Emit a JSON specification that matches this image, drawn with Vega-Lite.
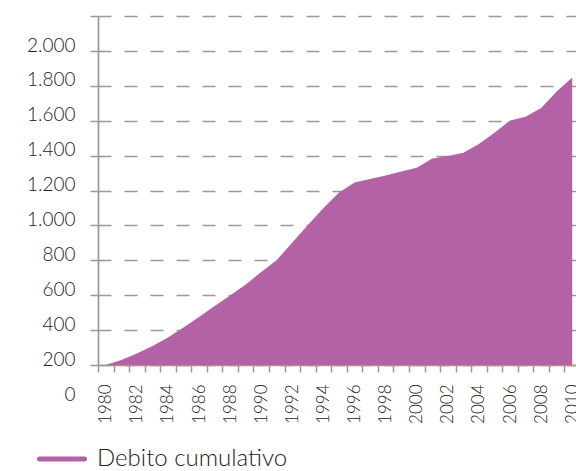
{
  "$schema": "https://vega.github.io/schema/vega-lite/v6.json",
  "width": 482,
  "height": 349,
  "autosize": {"type": "none"},
  "padding": {"left": 98, "top": 16, "right": 0, "bottom": 106},
  "background": "white",
  "data": {
    "values": [
      {"anno": 1980, "debito": 0, "serie": "Debito cumulativo"},
      {"anno": 1981, "debito": 29, "serie": "Debito cumulativo"},
      {"anno": 1982, "debito": 66, "serie": "Debito cumulativo"},
      {"anno": 1983, "debito": 109, "serie": "Debito cumulativo"},
      {"anno": 1984, "debito": 158, "serie": "Debito cumulativo"},
      {"anno": 1985, "debito": 215, "serie": "Debito cumulativo"},
      {"anno": 1986, "debito": 275, "serie": "Debito cumulativo"},
      {"anno": 1987, "debito": 338, "serie": "Debito cumulativo"},
      {"anno": 1988, "debito": 398, "serie": "Debito cumulativo"},
      {"anno": 1989, "debito": 461, "serie": "Debito cumulativo"},
      {"anno": 1990, "debito": 533, "serie": "Debito cumulativo"},
      {"anno": 1991, "debito": 602, "serie": "Debito cumulativo"},
      {"anno": 1992, "debito": 702, "serie": "Debito cumulativo"},
      {"anno": 1993, "debito": 802, "serie": "Debito cumulativo"},
      {"anno": 1994, "debito": 900, "serie": "Debito cumulativo"},
      {"anno": 1995, "debito": 989, "serie": "Debito cumulativo"},
      {"anno": 1996, "debito": 1046, "serie": "Debito cumulativo"},
      {"anno": 1997, "debito": 1066, "serie": "Debito cumulativo"},
      {"anno": 1998, "debito": 1086, "serie": "Debito cumulativo"},
      {"anno": 1999, "debito": 1109, "serie": "Debito cumulativo"},
      {"anno": 2000, "debito": 1131, "serie": "Debito cumulativo"},
      {"anno": 2001, "debito": 1183, "serie": "Debito cumulativo"},
      {"anno": 2002, "debito": 1198, "serie": "Debito cumulativo"},
      {"anno": 2003, "debito": 1217, "serie": "Debito cumulativo"},
      {"anno": 2004, "debito": 1266, "serie": "Debito cumulativo"},
      {"anno": 2005, "debito": 1331, "serie": "Debito cumulativo"},
      {"anno": 2006, "debito": 1401, "serie": "Debito cumulativo"},
      {"anno": 2007, "debito": 1422, "serie": "Debito cumulativo"},
      {"anno": 2008, "debito": 1473, "serie": "Debito cumulativo"},
      {"anno": 2009, "debito": 1567, "serie": "Debito cumulativo"},
      {"anno": 2010, "debito": 1648, "serie": "Debito cumulativo"}
    ]
  },
  "mark": {"type": "area", "opacity": 1},
  "encoding": {
    "x": {
      "field": "anno",
      "type": "ordinal",
      "bandPosition": 0.5,
      "scale": {"type": "band", "paddingInner": 0, "paddingOuter": 0},
      "axis": {
        "title": null,
        "labelAngle": -90,
        "labelExpr": "datum.value % 2 == 0 ? datum.label : ''",
        "tickBand": "extent",
        "tickSize": 7,
        "tickWidth": 1.5,
        "tickColor": "#999999",
        "domainColor": "#999999",
        "domainWidth": 1.7,
        "labelPadding": 12,
        "labelFontSize": 17,
        "labelFontWeight": 300,
        "labelColor": "#222222",
        "labelFont": "Lato",
        "grid": false
      }
    },
    "y": {
      "field": "debito",
      "type": "quantitative",
      "scale": {"domain": [0, 2000], "nice": false},
      "axis": {
        "title": null,
        "values": [0, 200, 400, 600, 800, 1000, 1200, 1400, 1600, 1800, 2000],
        "labelExpr": "replace(format(datum.value, ','), ',', '.')",
        "labelOffset": 29,
        "labelPadding": 15,
        "labelFontSize": 19,
        "labelFontWeight": 300,
        "labelColor": "#222222",
        "labelFont": "Lato",
        "tickSize": 8,
        "tickWidth": 1.5,
        "tickColor": "#999999",
        "domainColor": "#999999",
        "domainWidth": 1.7,
        "grid": true,
        "gridColor": "#999999",
        "gridWidth": 1.3,
        "gridDash": [13, 13]
      }
    },
    "color": {
      "field": "serie",
      "type": "nominal",
      "scale": {"range": ["#B462A6"]},
      "legend": {
        "title": null,
        "orient": "none",
        "legendX": -61,
        "legendY": 418,
        "symbolType": "stroke",
        "symbolSize": 2025,
        "symbolStrokeWidth": 5,
        "symbolStrokeColor": "#B462A6",
        "symbolOpacity": 1,
        "labelFontSize": 24,
        "labelFontWeight": 300,
        "labelFont": "Lato",
        "labelColor": "#222222",
        "labelOffset": 10,
        "labelLimit": 0,
        "encode": {
          "symbols": {
            "update": {
              "stroke": {"value": "#B462A6"},
              "fill": {"value": "transparent"},
              "strokeWidth": {"value": 5},
              "strokeCap": {"value": "round"},
              "opacity": {"value": 1}
            }
          }
        }
      }
    }
  },
  "config": {"view": {"stroke": null}}
}
